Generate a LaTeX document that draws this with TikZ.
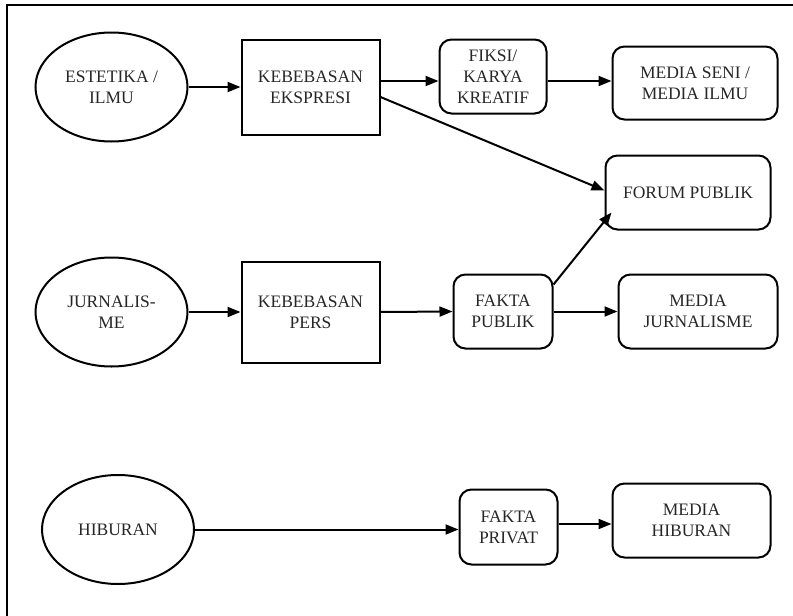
\documentclass[tikz,border=0pt]{standalone}
\usepackage{fontspec}
\setmainfont{Liberation Serif}
\newfontfamily\labelfont{Liberation Serif}
\usetikzlibrary{shapes.geometric,arrows.meta,calc}

\begin{document}
\begin{tikzpicture}[x=1pt,y=-1pt,
  every node/.style={font=\labelfont\fontsize{17.5}{21}\selectfont, text=black!85, align=center, inner sep=0pt},
  oval/.style={ellipse, draw, line width=2pt, minimum width=152pt, minimum height=109pt},
  sqbox/.style={rectangle, draw, line width=2pt},
  rbox/.style={rectangle, rounded corners=12pt, draw, line width=2pt},
  arr/.style={line width=2pt, -{Triangle[length=13pt,width=10pt]}},
  frame/.style={line width=2.6pt}]
\useasboundingbox (0,0) rectangle (793,616);

% frame lines along the top and left
\coordinate (fTL) at (7,5);
\coordinate (fTR) at (793,5);
\coordinate (fBL) at (7,616);
\draw[frame] (fBL) -- (fTL) -- (fTR);

% top row
\node[oval] (estetika) at (111.5,87) {ESTETIKA /\\ILMU};
\node[sqbox, minimum width=138pt, minimum height=95pt] (ekspresi) at (310.5,87) {KEBEBASAN\\EKSPRESI};
\node[rbox, minimum width=107pt, minimum height=74pt] (fiksi) at (493,76.5) {FIKSI/\\KARYA\\KREATIF};
\node[rbox, minimum width=165pt, minimum height=73pt] (seni) at (695,83) {MEDIA SENI /\\MEDIA ILMU};
\node[rbox, minimum width=165pt, minimum height=74pt] (forum) at (688,192.5) {FORUM PUBLIK};

% middle row
\node[oval] (jurnal) at (111.5,312) {JURNALIS-\\ME};
\node[sqbox, minimum width=138pt, minimum height=101pt] (pers) at (310.5,312) {KEBEBASAN\\PERS};
\node[rbox, minimum width=99pt, minimum height=74pt] (publik) at (503,311.5) {FAKTA\\PUBLIK};
\node[rbox, minimum width=159pt, minimum height=74pt] (mjurnal) at (698,311.5) {MEDIA\\JURNALISME};

% bottom row
\node[oval] (hiburan) at (118,529.5) {HIBURAN};
\node[rbox, minimum width=98pt, minimum height=75pt] (privat) at (508.5,527) {FAKTA\\PRIVAT};
\node[rbox, minimum width=158pt, minimum height=74pt] (mhiburan) at (691.5,520.5) {MEDIA\\HIBURAN};

% connector levels
\coordinate (r1) at (0,81);
\coordinate (r3) at (0,524);

% connectors
\draw[arr] (estetika.east) -- (ekspresi.west);
\draw[arr] (ekspresi.east |- r1) -- (fiksi.west |- r1);
\draw[arr] (fiksi.east |- r1) -- (seni.west |- r1);
\draw[arr] ($(ekspresi.east)+(0,10)$) -- ($(forum.west)+(0,-2)$);
\draw[arr] ($(publik.north east)+(0,11)$) -- ($(forum.south west)+(7,-18)$);

\draw[arr] (jurnal.east) -- (pers.west);
\draw[arr] (pers.east) -- (publik.west);
\draw[arr] (publik.east) -- (mjurnal.west);

\draw[arr] (hiburan.east) -- (privat.west |- hiburan.east);
\draw[arr] (privat.east |- r3) -- (mhiburan.west |- r3);
\end{tikzpicture}
\end{document}
